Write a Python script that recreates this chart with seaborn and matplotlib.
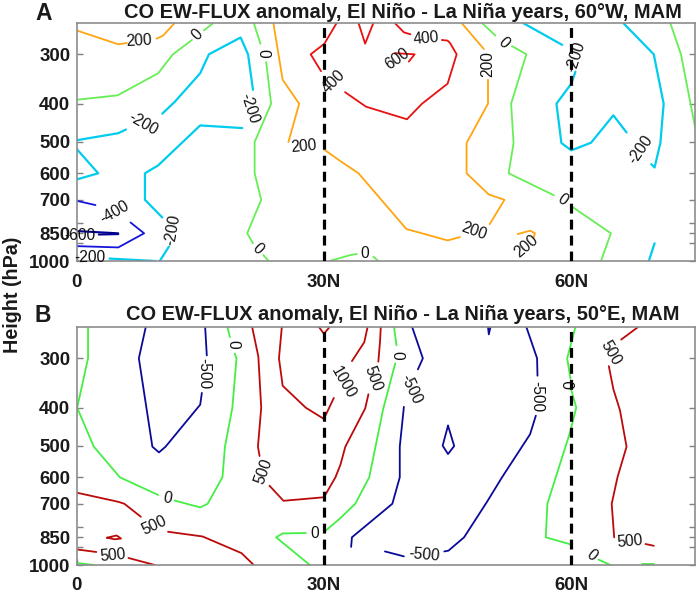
import matplotlib
matplotlib.use("Agg")
import matplotlib.pyplot as plt
from matplotlib.ticker import FixedLocator, FixedFormatter, NullLocator
import seaborn as sns

sns.set_theme(style="white")
plt.rcParams["font.family"] = ["Liberation Sans", "DejaVu Sans"]

# Contours: each piece is (latitudes, pressures in hPa)
a_pos200 = [
    ([0, 5.06, 6.1], [261, 283, 281]),
    ([9.7, 10.5, 11.9], [274, 269, 250]),
    ([23.87, 25, 27, 25.7], [250, 348, 400, 500]),
    ([30, 32, 34.2, 40, 45, 46.5], [522, 559, 600, 830, 887, 870]),
    ([50.1, 51.9, 50, 47.3, 47.3, 49.9, 49.9], [807, 700, 679, 600, 503, 400, 348]),
    ([49.4, 46.7], [291, 250]),
    ([53.5, 55, 55.6, 55.4], [855, 838, 851, 873]),
]
a_pos400 = [
    ([31.55, 30.06, 28.4, 29.65], [250, 282, 300, 331]),
    ([32.56, 35.1, 40.07, 41.9, 45, 46.1, 45.3, 45, 44.3], [374, 407, 438, 400, 356, 300, 281, 277, 276]),
    ([40.5, 39.7, 38.6], [267, 264, 250]),
    ([34.2, 35, 36], [250, 282, 250]),
]
a_pos600 = [
    ([38.6, 41, 40.3], [298, 300, 313]),
]
a_zero = [
    ([0, 4.98, 9.9, 11.7, 14], [391, 381, 335, 300, 276]),
    ([15.45, 16.6], [261, 250]),
    ([21.5, 22.3], [250, 282]),
    ([23, 23.6, 21.6, 21.6, 22.4, 20.7, 21.4], [314, 400, 500, 600, 700, 851, 902]),
    ([22.65, 23.3], [966, 1000]),
    ([30.7, 33.2, 34], [1000, 966, 960]),
    ([36, 36.6], [975, 1000]),
    ([49.17, 50.8], [250, 269]),
    ([52.8, 54.55, 52.7, 53, 52.4, 57.9], [286, 300, 400, 503, 600, 682]),
    ([60.1, 64.8, 63.6], [729, 851, 1000]),
    ([72, 73.3, 75], [250, 300, 458]),
]
a_neg200 = [
    ([0, 5.06, 6], [495, 475, 465]),
    ([10.4, 11.9, 15, 16.06, 19.9, 20.8, 21.4], [424, 396, 335, 300, 272, 300, 369]),
    ([20.1, 15, 9.9, 8.3, 8.3, 10.4], [461, 454, 573, 600, 700, 776]),
    ([11.2, 10.1], [920, 1000]),
    ([0, 2.63, 0], [520, 600, 622]),
    ([4, 9.5], [986, 1000]),
    ([54.15, 58.9], [250, 284]),
    ([60.5, 60, 58.2, 58.8, 60, 62.4, 65.1, 66.7], [332, 356, 400, 503, 525, 502, 428, 473]),
    ([66.3, 70, 71.2, 70.8, 70.1, 69.7], [250, 300, 400, 503, 580, 569]),
    ([70.1, 69.4], [902, 1000]),
]
a_neg400 = [
    ([0, 2.3], [704, 722]),
    ([6.55, 8.2, 5.06, 0], [799, 851, 924, 917]),
]
a_neg600 = [
    ([0, 5.06], [840, 851]),
    ([2.7, 5.06], [857, 855]),
]

b_pos500 = [
    ([0, 5.06, 5.8, 7.8], [656, 692, 700, 755]),
    ([11.1, 15.3, 20, 21.5], [824, 847, 933, 1000]),
    ([0, 2.4], [913, 927]),
    ([6.3, 9.5], [960, 1000]),
    ([3.7, 4.85, 5.4, 4.65, 3.7], [853, 842, 857, 861, 853]),
    ([21.3, 22.05, 22.4, 22, 22.2], [250, 297, 400, 502, 530]),
    ([23.4, 25.1, 30, 31.4, 32, 32.6, 35, 35.4], [630, 688, 674, 600, 558, 502, 402, 370]),
    ([36.6, 36.8, 36.9], [306, 273, 250]),
    ([66.05, 68.1], [269, 250]),
    ([64.55, 65.1, 65.9, 66.7, 65.6, 64.9, 65.2], [314, 359, 406, 502, 600, 700, 851]),
    ([69, 70], [885, 894]),
]
b_pos1000 = [
    ([24.9, 24.55, 25, 27.8, 30, 31.2], [250, 300, 352, 400, 427, 378]),
    ([33.4, 34.9, 35.3], [305, 273, 250]),
    ([29.4, 30, 30.7], [250, 260, 250]),
]
b_zero = [
    ([1.4, 1.4, 0.08, 2.1, 5.26, 9.9], [250, 300, 400, 502, 600, 665]),
    ([11.9, 15, 15.9, 17.7, 18, 18.9, 19.4, 19.2], [687, 715, 700, 600, 502, 400, 300, 292]),
    ([18.6, 18.3], [265, 250]),
    ([0, 2.1], [988, 1000]),
    ([27.8, 25, 24.2, 28.3], [830, 832, 851, 1000]),
    ([30, 32, 33.8, 35.5, 37.2, 38.65], [826, 761, 700, 600, 402, 309]),
    ([38.8, 38.5], [278, 250]),
    ([60.5, 59.5, 59.9], [250, 300, 338]),
    ([60, 60.6, 59.8, 57.1, 56.9, 60.1], [361, 400, 465, 700, 851, 889]),
    ([63.3, 64.75], [969, 1000]),
    ([68.6, 70], [996, 996]),
]
b_neg500 = [
    ([8.4, 7.56, 9.2, 10, 10.8, 15, 15.2], [250, 300, 502, 519, 502, 393, 367]),
    ([15.8, 15.6], [295, 250]),
    ([40.7, 42, 41.4], [250, 300, 320]),
    ([39.7, 39.2, 39.2, 38.3, 33.4, 33.3], [398, 502, 600, 700, 851, 900]),
    ([37.4, 39.7], [924, 951]),
    ([44.6, 45.1, 47, 49.8, 51.6, 55, 55.7], [924, 920, 851, 691, 600, 467, 419]),
    ([55.9, 55.85, 54.55], [332, 300, 250]),
    ([49.9, 50, 50.2], [250, 261, 250]),
    ([45.05, 44.4, 45.05, 45.8, 45.05], [444, 499, 524, 500, 444]),
]

# contour labels: latitude, pressure, text, angle
a_labels = [
    (7.6, 278, "200", 3), (14.6, 268, "0", 45), (22.6, 298, "0", -90),
    (8.1, 451, "-200", -30), (21, 412, "-200", -72), (27.5, 512, "200", 5),
    (31.15, 352, "400", 45), (4.65, 751, "-400", 30), (0.4, 863, "-600", 0),
    (11.65, 835, "-200", 80), (1.6, 979, "-200", 0), (22, 934, "0", -45),
    (34.9, 960, "0", 0), (38.9, 308, "600", 35), (42.4, 273, "400", 5),
    (49.9, 318, "200", 90), (51.8, 280, "0", -45), (60.5, 305, "-200", 72),
    (68.4, 522, "-200", 55), (58.9, 700, "0", -35), (48.2, 843, "200", -20),
    (54.55, 920, "200", 40),
]
b_labels = [
    (11, 680, "0", -10), (19, 277, "0", -90), (15.45, 328, "-500", -90),
    (9.4, 794, "500", 25), (4.4, 945, "500", 5), (22.65, 580, "500", 70),
    (28.85, 832, "0", 0), (35.9, 338, "500", -70), (32.4, 345, "1000", -60),
    (38.9, 295, "0", -90), (40.5, 360, "-500", -65), (42.1, 945, "-500", -5),
    (55.85, 375, "-500", -90), (60, 350, "0", 90), (62.4, 947, "0", -40),
    (64.8, 290, "500", -60), (67.1, 872, "500", 5),
]

lat_ticks = [0, 30, 60]
lat_names = ["0", "30N", "60N"]
height_ticks = [300, 400, 500, 600, 700, 800, 850, 900, 1000]
height_names = ["300", "400", "500", "600", "700", "", "850", "", "1000"]
dashed_lats = [30, 60]

W, H = 699, 593
fig = plt.figure(figsize=(W / 100, H / 100), dpi=100)


def panel(top, bottom):
    ax = fig.add_axes([76.5 / W, 1 - bottom / H, (695 - 76.5) / W, (bottom - top) / H])
    ax.set_yscale("log")
    ax.set_xlim(0, 75)
    ax.set_ylim(1000, 250)
    ax.yaxis.set_major_locator(FixedLocator(height_ticks))
    ax.yaxis.set_major_formatter(FixedFormatter(height_names))
    ax.yaxis.set_minor_locator(NullLocator())
    ax.set_xticks(lat_ticks, lat_names)
    ax.tick_params(axis="y", direction="in", left=True, right=True, length=4.5, width=1,
                   color="#808080", labelsize=13.4, labelcolor="#1a1a1a", pad=4.5)
    ax.tick_params(axis="x", direction="in", bottom=True, length=4.5, width=1,
                   color="#808080", labelsize=13.4, labelcolor="#1a1a1a", pad=9)
    for t in ax.get_xticklabels() + ax.get_yticklabels():
        t.set_fontweight("bold")
    for s in ax.spines.values():
        s.set_color("#8c8c8c")
        s.set_linewidth(1.2)
    return ax


def draw(ax, pieces, color, lw=1.3):
    for lats, heights in pieces:
        sns.lineplot(x=lats, y=heights, sort=False, estimator=None, color=color,
                     linewidth=lw, ax=ax, legend=False)


def finish(ax, labels, letter, title, letter_y, title_y):
    ax.set_xlabel("")
    ax.set_ylabel("")
    ax.set_xlim(0, 75)
    ax.set_ylim(1000, 250)
    for x in dashed_lats:
        ax.axvline(x, color="black", lw=2.3, ls=(0, (3.1, 1.9)), zorder=3)
    for x, y, s, rot in labels:
        ax.text(x, y, s, rotation=rot, ha="center", va="center", fontsize=11.2,
                color="#111111", rotation_mode="anchor", zorder=4)
    fig.text(35 / W, 1 - letter_y / H, letter, fontsize=16.5, fontweight="bold",
             color="#1a1a1a", ha="left", va="center")
    fig.text(403 / W, 1 - title_y / H, title, fontsize=14.4, fontweight="bold",
             color="#1a1a1a", ha="center", va="center")


ax_a = panel(23, 261)
draw(ax_a, a_pos200, "#ffa510")
draw(ax_a, a_pos400, "#e81010")
draw(ax_a, a_pos600, "#e81010")
draw(ax_a, a_zero, "#66ee55")
draw(ax_a, a_neg200, "#00ccee", 1.6)
draw(ax_a, a_neg400, "#1515dd")
draw(ax_a, a_neg600, "#000090", 1.5)
finish(ax_a, a_labels, "A", "CO EW-FLUX anomaly, El Niño - La Niña years, 60°W, MAM", 14, 12)

ax_b = panel(327, 565)
draw(ax_b, b_pos500, "#bb0a0a")
draw(ax_b, b_pos1000, "#bb0a0a")
draw(ax_b, b_zero, "#44ee44")
draw(ax_b, b_neg500, "#0a0a99")
finish(ax_b, b_labels, "B", "CO EW-FLUX anomaly, El Niño - La Niña years, 50°E, MAM", 316, 315)

fig.text(13 / W, 1 - 295 / H, "Height (hPa)", rotation=90, fontsize=14.2, fontweight="bold",
         color="#1a1a1a", ha="center", va="center")

fig.savefig("out.png", dpi=100)
